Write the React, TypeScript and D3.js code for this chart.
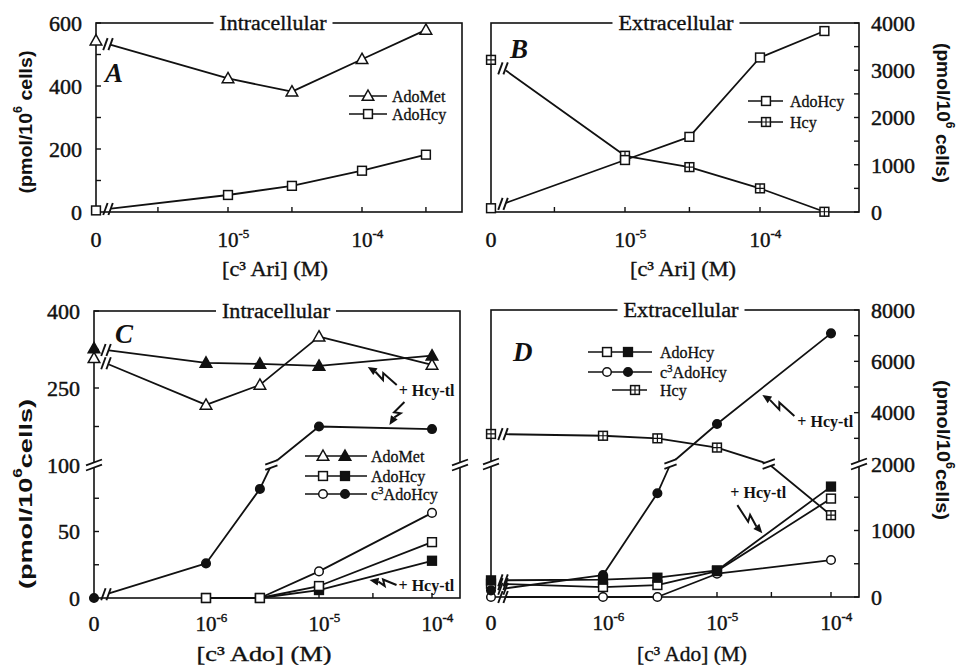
import React from "react";
import * as d3 from "d3";

// ---------------- Data ----------------
const xAri = [0, 1e-5, 3e-5, 1e-4, 3e-4];
const xAdo = [0, 1e-6, 3e-6, 1e-5, 1e-4];

const aAdoMet = [544, 424, 382, 485, 578];
const aAdoHcy = [5, 54, 83, 131, 182];

const bAdoHcy = [80, 1100, 1590, 3270, 3830];
const bHcy = [3220, 1190, 950, 500, 5];

const cAdoMetOpen = [308, 217, 256, 350, 295];
const cAdoMetFilled = [327, 299, 297, 293, 313];
const cAdoHcyOpen = [null, 0, 0, 9, 42];
const cAdoHcyFilled = [null, 0, 0, 6, 28];
const cC3Open = [null, 0, 0, 20, 64];
const cC3Filled = [0, 26, 82, 175, 170];

const dAdoHcyOpen = [200, 150, 180, 390, 1480];
const dAdoHcyFilled = [250, 260, 290, 400, 1660];
const dC3Open = [0, 0, 0, 350, 556];
const dC3Filled = [100, 330, 1560, 3560, 7090];
const dHcy = [3170, 3100, 3000, 2640, 1230];

const aYTicks = [0, 200, 400, 600];
const aYMinor = [100, 300, 500];
const bYTicks = [0, 1000, 2000, 3000, 4000];
const bYMinor = [500, 1500, 2500, 3500];
const cYTicks = [0, 50, 100, 250, 400];
const cYMinor = [25, 75, 175, 325];
const dYTicks = [0, 1000, 2000, 4000, 6000, 8000];
const dYMinor = [500, 1500, 3000, 5000, 7000];

const ariXTicks = [3e-6, 1e-5, 3e-5, 1e-4, 3e-4];
const adoXTicks = [1e-6, 3e-6, 1e-5, 3e-5, 1e-4];
const ariXLabels = [
  { v: 0, exp: "" },
  { v: 1e-5, exp: "-5" },
  { v: 1e-4, exp: "-4" },
];
const adoXLabels = [
  { v: 0, exp: "" },
  { v: 1e-6, exp: "-6" },
  { v: 1e-5, exp: "-5" },
  { v: 1e-4, exp: "-4" },
];

// annotations: arrow head anchored at data coords; offsets in px
const cAnnots = [
  { hx: 2.7e-5, hy: 291, tdx: 29, tdy: 18, lx: 31, ly: 29, text: "+ Hcy-tl" },
  { hx: 4.2e-5, hy: 178, tdx: 15, tdy: -23, lx: 0, ly: 0, text: "" },
  { hx: 2.8e-5, hy: 13.5, tdx: 27, tdy: 5, lx: 29, ly: 11, text: "+ Hcy-tl" },
];
const dAnnots = [
  { hx: 2.5e-5, hy: 4690, tdx: 32, tdy: 21, lx: 35, ly: 32, text: "+ Hcy-tl" },
  { hx: 2.5e-5, hy: 960, tdx: -25, tdy: -28, lx: -32, ly: -35, text: "+ Hcy-tl" },
];

// ---------------- Styling ----------------
const SERIF = "'Liberation Serif', 'Times New Roman', serif";
const SANS = "'Liberation Sans', Arial, sans-serif";
const INK = "#111";

type MType = "triO" | "triF" | "sqO" | "sqF" | "cirO" | "cirF" | "sqP";

function Marker({ t, x, y }: { t: MType; x: number; y: number }) {
  const sw = 1.5;
  if (t === "triO" || t === "triF") {
    const pts = `${x},${y - 6} ${x + 5.8},${y + 4.3} ${x - 5.8},${y + 4.3}`;
    return <polygon points={pts} fill={t === "triF" ? INK : "#fff"} stroke={INK} strokeWidth={sw} />;
  }
  if (t === "sqO" || t === "sqF" || t === "sqP") {
    const s = 4.4;
    return (
      <g>
        <rect x={x - s} y={y - s} width={2 * s} height={2 * s} fill={t === "sqF" ? INK : "#fff"} stroke={INK} strokeWidth={sw} />
        {t === "sqP" && (
          <path d={`M${x - s},${y}H${x + s}M${x},${y - s}V${y + s}`} stroke={INK} strokeWidth={1.2} />
        )}
      </g>
    );
  }
  return <circle cx={x} cy={y} r={4.3} fill={t === "cirF" ? INK : "#fff"} stroke={INK} strokeWidth={sw} />;
}

function BreakGlyph({ x, y, len }: { x: number; y: number; len: number }) {
  const a = (-20 * Math.PI) / 180;
  const dx = (Math.cos(a) * len) / 2;
  const dy = (Math.sin(a) * len) / 2;
  const g = 2.6;
  const p1 = [x - dx, y - dy - g], p2 = [x + dx, y + dy - g];
  const p3 = [x + dx, y + dy + g], p4 = [x - dx, y - dy + g];
  return (
    <g>
      <polygon points={[p1, p2, p3, p4].map((p) => p.join(",")).join(" ")} fill="#fff" />
      <line x1={p1[0]} y1={p1[1]} x2={p2[0]} y2={p2[1]} stroke={INK} strokeWidth={1.8} />
      <line x1={p4[0]} y1={p4[1]} x2={p3[0]} y2={p3[1]} stroke={INK} strokeWidth={1.8} />
    </g>
  );
}

function ZeroGlyph({ x, y }: { x: number; y: number }) {
  return (
    <g stroke={INK} strokeWidth={1.9}>
      {[-2.6, 2.6].map((o) => (
        <line key={o} x1={x + o - 2.2} y1={y + 6} x2={x + o + 2.2} y2={y - 6} />
      ))}
    </g>
  );
}

function Lightning({ x1, y1, x2, y2 }: { x1: number; y1: number; x2: number; y2: number }) {
  const L = Math.hypot(x2 - x1, y2 - y1);
  const ux = (x2 - x1) / L, uy = (y2 - y1) / L;
  const nx = -uy, ny = ux;
  const a = [x1 + ux * L * 0.52 + nx * 3, y1 + uy * L * 0.52 + ny * 3];
  const b = [x1 + ux * L * 0.42 - nx * 3, y1 + uy * L * 0.42 - ny * 3];
  const ah = 9, aw = 4;
  const bx = x2 - ux * ah, by = y2 - uy * ah;
  return (
    <g>
      <path d={`M${x1},${y1}L${a[0]},${a[1]}L${b[0]},${b[1]}L${bx},${by}`} fill="none" stroke={INK} strokeWidth={2}
        strokeLinejoin="miter" />
      <polygon points={`${x2},${y2} ${bx + nx * aw},${by + ny * aw} ${bx - nx * aw},${by - ny * aw}`} fill={INK} />
    </g>
  );
}

interface Series { vals: (number | null)[]; m: MType }
interface LegendRow { label: React.ReactNode; ms: MType[]; y: number; x1?: number; x2?: number; mx?: number[] }

interface PanelCfg {
  xs: number[];
  x0: number;
  logDomain: [number, number];
  logRange: [number, number];
  left: number; right: number; top: number; bottom: number;
  yDomain: number[]; yRange: number[];
  brk?: number;
  series: Series[];
  axis: "left" | "right";
  yTicks: number[]; yMinor: number[];
  xTicks: number[];
  xLabels: { v: number; exp: string }[];
  xTickBase: number;
  title: string; titleX: number; titleW: number;
  letter: string; letterX: number; letterY: number;
  xLabel: React.ReactNode; xLabelX: number; xLabelY: number; xLabelW: number;
  yLabel: React.ReactNode; yLabelX: number; yLabelY: number; yLabelW: number;
  legend: { x1: number; x2: number; mx: number[]; tx: number; rows: LegendRow[] };
  annots: { hx: number; hy: number; tdx: number; tdy: number; lx: number; ly: number; text: string }[];
}

function Panel({ c }: { c: PanelCfg }) {
  const xl = d3.scaleLog().domain(c.logDomain).range(c.logRange);
  const X = (v: number) => (v === 0 ? c.x0 : xl(v));
  const Y = d3.scaleLinear().domain(c.yDomain).range(c.yRange);
  const lineGen = d3.line<[number, number]>();

  const built = c.series.map((s) => {
    const idx = s.vals.map((v, i) => (v == null ? -1 : i)).filter((i) => i >= 0);
    const pts: [number, number][] = [];
    const zeros: { x: number; y: number }[] = [];
    const brks: { x: number; y: number }[] = [];
    idx.forEach((i, k) => {
      const v = s.vals[i] as number;
      if (c.xs[i] === 0) {
        const j = idx[k + 1];
        const xa = X(0), ya = Y(v), xb = X(c.xs[j]), yb = Y(s.vals[j] as number);
        const off = 15;
        const t = off / (xb - xa);
        const yy = ya + t * (yb - ya);
        pts.push([xa + off, yy]);
        const tz = (off - 3) / (xb - xa);
        zeros.push({ x: xa + off - 3, y: ya + tz * (yb - ya) });
        return;
      }
      if (k > 0 && c.brk != null) {
        const ip = idx[k - 1];
        const va = s.vals[ip] as number;
        if (c.xs[ip] > 0 && (va - c.brk) * (v - c.brk) < 0) {
          const t = (c.brk - va) / (v - va);
          const lx = Math.exp(Math.log(c.xs[ip]) + t * (Math.log(c.xs[i]) - Math.log(c.xs[ip])));
          const p: [number, number] = [X(lx), Y(c.brk)];
          pts.push(p);
          brks.push({ x: p[0], y: p[1] });
        }
      }
      pts.push([X(c.xs[i]), Y(v)]);
    });
    return { pts, zeros, brks, idx };
  });

  const ax = c.axis === "left" ? c.left : c.right;
  const dir = c.axis === "left" ? 1 : -1;
  const tickLabelX = c.axis === "left" ? ax - 14 : ax + 12;

  return (
    <g>
      {/* frame */}
      <rect x={c.left} y={c.top} width={c.right - c.left} height={c.bottom - c.top} fill="none" stroke={INK} strokeWidth={1.6} />
      {/* y ticks */}
      {[...c.yTicks, ...c.yMinor].map((v) => (
        <line key={"yt" + v} x1={ax} x2={ax + dir * 5} y1={Y(v)} y2={Y(v)} stroke={INK} strokeWidth={1.4} />
      ))}
      {c.yTicks.map((v) => (
        <text key={"yl" + v} x={tickLabelX} y={Y(v) + 7.8} fontSize={22} fontFamily={SERIF}
          textAnchor={c.axis === "left" ? "end" : "start"} fill={INK} stroke={INK} strokeWidth={0.45}>
          {v}
        </text>
      ))}
      {/* x ticks */}
      {c.xTicks.map((v) => (
        <line key={"xt" + v} x1={X(v)} x2={X(v)} y1={c.bottom} y2={c.bottom - 5} stroke={INK} strokeWidth={1.4} />
      ))}
      {c.xLabels.map((l) => (
        l.v === 0 ? (
          <text key={"xl" + l.v} x={X(0)} y={c.xTickBase} fontSize={22} fontFamily={SERIF} textAnchor="middle" fill={INK} stroke={INK} strokeWidth={0.45}>0</text>
        ) : (
          <text key={"xl" + l.v} x={X(l.v) - 10.5} y={c.xTickBase} fontSize={21} fontFamily={SERIF} fill={INK} stroke={INK} strokeWidth={0.4}>
            10<tspan dy={-9} fontSize={13}>{l.exp}</tspan>
          </text>
        )
      ))}
      {/* axis breaks */}
      {c.brk != null && (
        <g>
          <BreakGlyph x={c.left} y={Y(c.brk)} len={17} />
          <BreakGlyph x={c.right} y={Y(c.brk)} len={17} />
        </g>
      )}
      {/* lines */}
      {built.map((b, i) => (
        <path key={"ln" + i} d={lineGen(b.pts) || ""} fill="none" stroke={INK} strokeWidth={1.8} strokeLinejoin="round" />
      ))}
      {built.map((b, i) => b.brks.map((p, k) => <BreakGlyph key={"lb" + i + "_" + k} x={p.x} y={p.y} len={13} />))}
      {built.map((b, i) => b.zeros.map((p, k) => <ZeroGlyph key={"z" + i + "_" + k} x={p.x} y={p.y} />))}
      {/* markers */}
      {built.map((b, i) =>
        b.idx.map((j) => <Marker key={"m" + i + "_" + j} t={c.series[i].m} x={X(c.xs[j])} y={Y(c.series[i].vals[j] as number)} />)
      )}
      {/* title */}
      <rect x={c.titleX - c.titleW / 2 - 6} y={c.top - 4} width={c.titleW + 12} height={8} fill="#fff" />
      <text x={c.titleX} y={c.top + 6.5} fontSize={20} fontFamily={SERIF} textAnchor="middle" textLength={c.titleW}
        lengthAdjust="spacingAndGlyphs" fill={INK} stroke={INK} strokeWidth={0.35}>
        {c.title}
      </text>
      {/* letter */}
      <text x={c.letterX} y={c.letterY} fontSize={27} fontFamily={SERIF} fontWeight="bold" fontStyle="italic" fill={INK}>
        {c.letter}
      </text>
      {/* axis labels */}
      <text x={c.xLabelX} y={c.xLabelY} fontSize={21} fontFamily={SERIF} textAnchor="middle" textLength={c.xLabelW}
        lengthAdjust="spacingAndGlyphs" fill={INK} stroke={INK} strokeWidth={0.35}>
        {c.xLabel}
      </text>
      <text transform={`translate(${c.yLabelX},${c.yLabelY}) rotate(${c.axis === "left" ? -90 : 90})`} fontSize={19}
        fontFamily={SANS} fontWeight="bold" textAnchor="middle" dominantBaseline="central" textLength={c.yLabelW}
        lengthAdjust="spacingAndGlyphs" fill={INK}>
        {c.yLabel}
      </text>
      {/* legend */}
      {c.legend.rows.map((r, i) => {
        const x1 = r.x1 ?? c.legend.x1, x2 = r.x2 ?? c.legend.x2, mx = r.mx ?? c.legend.mx;
        return (
          <g key={"lg" + i}>
            <line x1={x1} x2={x2} y1={r.y} y2={r.y} stroke={INK} strokeWidth={1.7} />
            {r.ms.map((m, k) => <Marker key={k} t={m} x={mx[k]} y={r.y} />)}
            <text x={c.legend.tx} y={r.y + 5.5} fontSize={16} fontFamily={SERIF} fill={INK} stroke={INK} strokeWidth={0.3}>
              {r.label}
            </text>
          </g>
        );
      })}
      {/* annotations */}
      {c.annots.map((a, i) => {
        const hx = X(a.hx), hy = Y(a.hy);
        return (
          <g key={"an" + i}>
            <Lightning x1={hx + a.tdx} y1={hy + a.tdy} x2={hx} y2={hy} />
            {a.text && (
              <text x={hx + a.lx} y={hy + a.ly} fontSize={16} fontFamily={SERIF} fontWeight="bold" fill={INK}>
                {a.text}
              </text>
            )}
          </g>
        );
      })}
    </g>
  );
}

const yLab = (space: boolean) => (
  <>
    (pmol/10<tspan dy={-7} fontSize={12}>6</tspan>
    <tspan dy={7}>{space ? " cells)" : "cells)"}</tspan>
  </>
);

const panelA: PanelCfg = {
  xs: xAri, x0: 96, logDomain: [1e-5, 1e-4], logRange: [228, 362],
  left: 96, right: 462, top: 23, bottom: 212,
  yDomain: [0, 600], yRange: [212, 23],
  series: [
    { vals: aAdoMet, m: "triO" },
    { vals: aAdoHcy, m: "sqO" },
  ],
  axis: "left", yTicks: aYTicks, yMinor: aYMinor, xTicks: ariXTicks, xLabels: ariXLabels, xTickBase: 247,
  title: "Intracellular", titleX: 273, titleW: 107,
  letter: "A", letterX: 105, letterY: 82,
  xLabel: "[c³ Ari] (M)", xLabelX: 275, xLabelY: 276, xLabelW: 106,
  yLabel: yLab(true), yLabelX: 25, yLabelY: 122, yLabelW: 143,
  legend: {
    x1: 349, x2: 387, mx: [368], tx: 392,
    rows: [
      { label: "AdoMet", ms: ["triO"], y: 96 },
      { label: "AdoHcy", ms: ["sqO"], y: 114 },
    ],
  },
  annots: [],
};

const panelB: PanelCfg = {
  xs: xAri, x0: 491, logDomain: [1e-5, 1e-4], logRange: [625, 760],
  left: 491, right: 859, top: 23, bottom: 212,
  yDomain: [0, 4000], yRange: [212, 23],
  series: [
    { vals: bHcy, m: "sqP" },
    { vals: bAdoHcy, m: "sqO" },
  ],
  axis: "right", yTicks: bYTicks, yMinor: bYMinor, xTicks: ariXTicks, xLabels: ariXLabels, xTickBase: 247,
  title: "Extracellular", titleX: 676, titleW: 115,
  letter: "B", letterX: 510, letterY: 58,
  xLabel: "[c³ Ari] (M)", xLabelX: 683, xLabelY: 276, xLabelW: 106,
  yLabel: yLab(true), yLabelX: 943, yLabelY: 113, yLabelW: 140,
  legend: {
    x1: 748, x2: 783, mx: [766], tx: 790,
    rows: [
      { label: "AdoHcy", ms: ["sqO"], y: 101 },
      { label: "Hcy", ms: ["sqP"], y: 122 },
    ],
  },
  annots: [],
};

const c3Label = (
  <>
    c<tspan dy={-6} fontSize={11}>3</tspan>
    <tspan dy={6}>AdoHcy</tspan>
  </>
);

const panelC: PanelCfg = {
  xs: xAdo, x0: 94, logDomain: [1e-6, 1e-4], logRange: [206, 432],
  left: 94, right: 460, top: 311, bottom: 598,
  yDomain: [0, 100, 400], yRange: [598, 465, 311], brk: 100,
  series: [
    { vals: cAdoHcyFilled, m: "sqF" },
    { vals: cC3Open, m: "cirO" },
    { vals: cAdoHcyOpen, m: "sqO" },
    { vals: cC3Filled, m: "cirF" },
    { vals: cAdoMetOpen, m: "triO" },
    { vals: cAdoMetFilled, m: "triF" },
  ],
  axis: "left", yTicks: cYTicks, yMinor: cYMinor, xTicks: adoXTicks, xLabels: adoXLabels, xTickBase: 631,
  title: "Intracellular", titleX: 276, titleW: 108,
  letter: "C", letterX: 115, letterY: 343,
  xLabel: "[c³ Ado] (M)", xLabelX: 264, xLabelY: 661, xLabelW: 135,
  yLabel: yLab(false), yLabelX: 25, yLabelY: 494, yLabelW: 190,
  legend: {
    x1: 305, x2: 367, mx: [323, 345], tx: 371,
    rows: [
      { label: "AdoMet", ms: ["triO", "triF"], y: 456 },
      { label: "AdoHcy", ms: ["sqO", "sqF"], y: 476 },
      { label: c3Label, ms: ["cirO", "cirF"], y: 494 },
    ],
  },
  annots: cAnnots,
};

const panelD: PanelCfg = {
  xs: xAdo, x0: 491, logDomain: [1e-6, 1e-4], logRange: [603, 831],
  left: 491, right: 859, top: 310, bottom: 597,
  yDomain: [0, 2000, 8000], yRange: [597, 464, 310], brk: 2000,
  series: [
    { vals: dC3Open, m: "cirO" },
    { vals: dAdoHcyOpen, m: "sqO" },
    { vals: dAdoHcyFilled, m: "sqF" },
    { vals: dC3Filled, m: "cirF" },
    { vals: dHcy, m: "sqP" },
  ],
  axis: "right", yTicks: dYTicks, yMinor: dYMinor, xTicks: adoXTicks, xLabels: adoXLabels, xTickBase: 630,
  title: "Extracellular", titleX: 681, titleW: 115,
  letter: "D", letterX: 513, letterY: 361,
  xLabel: "[c³ Ado] (M)", xLabelX: 692, xLabelY: 661, xLabelW: 110,
  yLabel: yLab(false), yLabelX: 943, yLabelY: 450, yLabelW: 140,
  legend: {
    x1: 588, x2: 652, mx: [607, 628], tx: 660,
    rows: [
      { label: "AdoHcy", ms: ["sqO", "sqF"], y: 352 },
      { label: c3Label, ms: ["cirO", "cirF"], y: 372 },
      { label: "Hcy", ms: ["sqP"], y: 390, x1: 612, x2: 647, mx: [635] },
    ],
  },
  annots: dAnnots,
};

export default function App() {
  return (
    <svg width={958} height={665} style={{ position: "absolute", left: 0, top: 0, background: "#fff" }}>
      <rect width={958} height={665} fill="#fff" />
      <Panel c={panelA} />
      <Panel c={panelB} />
      <Panel c={panelC} />
      <Panel c={panelD} />
    </svg>
  );
}
